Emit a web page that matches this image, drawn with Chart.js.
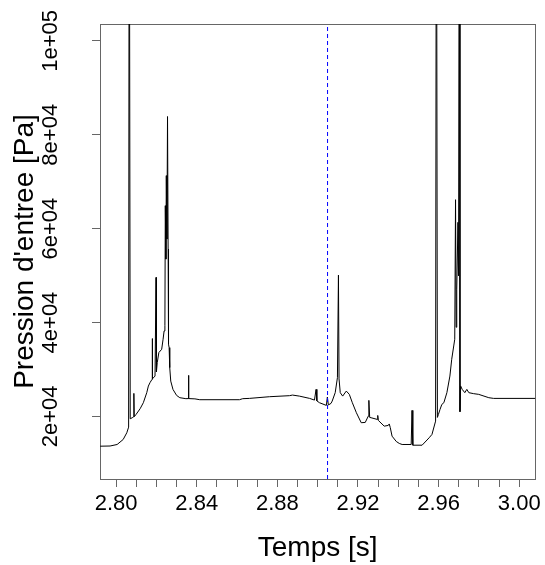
<!DOCTYPE html>
<html>
<head>
<meta charset="utf-8">
<script src="https://cdn.jsdelivr.net/npm/chart.js@4/dist/chart.umd.min.js"></script>
<style>
  html, body { margin: 0; padding: 0; background: #fff; }
  #chart { display: block; }
</style>
</head>
<body>
<canvas id="chart" width="545" height="565"></canvas>
<script>
// inlet pressure trace
const timeS = [
  2.7921, 2.7970, 2.8005, 2.8035, 2.8053, 2.8062, 2.8065, 2.8070,
  2.8080, 2.8086, 2.8088, 2.8090, 2.8099, 2.8119, 2.8135, 2.8152,
  2.8160, 2.8168, 2.8178, 2.8179, 2.8181, 2.8193, 2.8198, 2.8200,
  2.8204, 2.8212, 2.8226, 2.8233, 2.8238, 2.8242, 2.8244, 2.8247,
  2.8249, 2.8252, 2.8255, 2.8258, 2.8260, 2.8263, 2.8266, 2.8271,
  2.8282, 2.8300, 2.8316, 2.8346, 2.8357, 2.8359, 2.8361, 2.8391,
  2.8415, 2.8612, 2.8628, 2.8661, 2.8761, 2.8860, 2.8875, 2.8909,
  2.8960, 2.8984, 2.8992, 2.8996, 2.9009, 2.9043, 2.9048, 2.9053,
  2.9066, 2.9072, 2.9087, 2.9098, 2.9103, 2.9106, 2.9112, 2.9124,
  2.9142, 2.9157, 2.9172, 2.9192, 2.9216, 2.9236, 2.9251, 2.9254,
  2.9258, 2.9265, 2.9296, 2.9298, 2.9301, 2.9330, 2.9350, 2.9355,
  2.9360, 2.9369, 2.9390, 2.9405, 2.9419, 2.9464, 2.9468, 2.9472,
  2.9518, 2.9553, 2.9567, 2.9585, 2.9589, 2.9594, 2.9599, 2.9607,
  2.9616, 2.9626, 2.9641, 2.9656, 2.9665, 2.9675, 2.9680, 2.9684,
  2.9687, 2.9690, 2.9696, 2.9699, 2.9703, 2.9706, 2.9709, 2.9717,
  2.9730, 2.9740, 2.9750, 2.9774, 2.9799, 2.9849, 2.9873, 3.0080,
];
const pressurePa = [
  13660, 13700, 14020, 15090, 16520, 17720, 160000, 19500,
  19720, 19900, 24910, 19950, 20430, 21640, 22920, 25060,
  26470, 27190, 27900, 36590, 28000, 28600, 49610, 29500,
  31460, 33600, 34300, 36440, 38210, 39420, 64890, 53510,
  71290, 57780, 83890, 55650, 35370, 34660, 30400, 27530,
  25760, 24480, 23990, 23780, 23800, 28750, 23800, 23740,
  23560, 23560, 23780, 23840, 24200, 24420, 24550, 24330,
  23840, 23480, 25760, 23310, 22920, 22350, 24120, 22450,
  22770, 23270, 25060, 28260, 50100, 28000, 25060, 24330,
  25400, 24700, 22920, 20790, 18660, 18720, 20060, 23420,
  19790, 19720, 19360, 20210, 19150, 17930, 18080, 18400,
  17650, 15800, 14660, 14240, 14020, 14020, 21280, 13870,
  13870, 15450, 16160, 19000, 160000, 19790, 20430, 21490,
  22560, 22920, 25060, 28600, 32170, 35010, 36440, 66170,
  39000, 47110, 61350, 49950, 160000, 21000, 26500, 25760,
  25060, 25760, 25060, 24850, 24700, 23990, 23840, 23840,
];

const markerTime = 2.9049;

const X_MIN = 2.792, X_MAX = 3.008;
const Y_MIN = 6670, Y_MAX = 103600;

const xTickValues = [
  2.80, 2.81, 2.82, 2.83, 2.84, 2.85, 2.86, 2.87, 2.88, 2.89, 2.90,
  2.91, 2.92, 2.93, 2.94, 2.95, 2.96, 2.97, 2.98, 2.99, 3.00,
];
const xTickLabels = ['2.80', '2.84', '2.88', '2.92', '2.96', '3.00'];
const yTickValues = [20000, 40000, 60000, 80000, 100000];
const yTickLabels = ['2e+04', '4e+04', '6e+04', '8e+04', '1e+05'];

const AXIS_COLOR = '#666';
const TICK_FONT = { family: '"Liberation Sans", Arial, sans-serif', size: 22 };
const TITLE_FONT = { family: '"Liberation Sans", Arial, sans-serif', size: 28 };

const trace = timeS.map((t, i) => ({ x: t, y: pressurePa[i] }));

const edgeAxis = (position) => ({
  type: 'linear',
  position,
  min: 0,
  max: 1,
  ticks: { display: false },
  grid: { drawOnChartArea: false, drawTicks: false },
  border: { display: true, color: AXIS_COLOR, width: 1 },
});

new Chart(document.getElementById('chart').getContext('2d'), {
  type: 'scatter',
  data: {
    datasets: [
      {
        data: [{ x: markerTime, y: Y_MIN }, { x: markerTime, y: Y_MAX }],
        showLine: true,
        borderColor: '#0000ff',
        borderWidth: 1,
        borderDash: [4, 3],
        pointRadius: 0,
      },
      {
        data: trace,
        showLine: true,
        borderColor: '#000',
        borderWidth: 1,
        tension: 0,
        pointRadius: 0,
      },
    ],
  },
  options: {
    responsive: false,
    animation: false,
    layout: { padding: { left: 0, right: 8, top: 24, bottom: 0 } },
    plugins: { legend: { display: false }, tooltip: { enabled: false } },
    scales: {
      x: {
        type: 'linear',
        position: 'bottom',
        min: X_MIN,
        max: X_MAX,
        afterBuildTicks: (s) => { s.ticks = xTickValues.map((v) => ({ value: v })); },
        afterFit: (s) => { s.height = 86; },
        ticks: {
          autoSkip: false,
          maxRotation: 0,
          color: '#000',
          font: TICK_FONT,
          padding: 4,
          callback: (v) => {
            const lbl = v.toFixed(2);
            return xTickLabels.includes(lbl) ? lbl : '';
          },
        },
        grid: { drawOnChartArea: false, tickLength: 8, tickColor: AXIS_COLOR },
        border: { color: AXIS_COLOR, width: 1 },
        title: {
          display: true,
          text: 'Temps [s]',
          color: '#000',
          font: TITLE_FONT,
          padding: { top: 0, bottom: 0 },
        },
      },
      y: {
        type: 'linear',
        position: 'left',
        min: Y_MIN,
        max: Y_MAX,
        afterBuildTicks: (s) => { s.ticks = yTickValues.map((v) => ({ value: v })); },
        afterFit: (s) => { s.width = 100; },
        ticks: {
          minRotation: 90,
          maxRotation: 90,
          crossAlign: 'center',
          color: '#000',
          font: TICK_FONT,
          padding: 10,
          callback: (v) => yTickLabels[yTickValues.indexOf(v)],
        },
        grid: { drawOnChartArea: false, tickLength: 8, tickColor: AXIS_COLOR },
        border: { color: AXIS_COLOR, width: 1 },
        title: {
          display: true,
          text: "Pression d'entree [Pa]",
          color: '#000',
          font: TITLE_FONT,
          padding: { top: 8, bottom: 0 },
        },
      },
      xTop: edgeAxis('top'),
      yRight: edgeAxis('right'),
    },
  },
});
</script>
</body>
</html>
